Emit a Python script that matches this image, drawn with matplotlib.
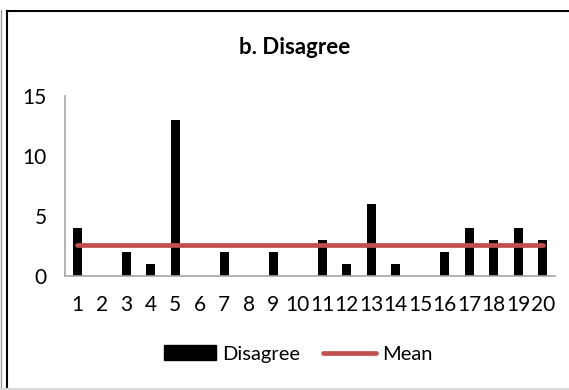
import matplotlib.pyplot as plt
from matplotlib.patches import Patch
from matplotlib.lines import Line2D
import numpy as np

respondents = list(range(1, 21))
disagree = [4, 0, 2, 1, 13, 0, 2, 0, 2, 0, 3, 1, 6, 1, 0, 2, 4, 3, 4, 3]
mean_value = np.mean(disagree)
y_ticks = [0, 5, 10, 15]

plt.rcParams["font.family"] = ["Lato", "DejaVu Sans"]

W, H = 569, 390
fig = plt.figure(figsize=(W / 100, H / 100), dpi=100)
ax = fig.add_axes([65 / W, 1 - 276 / H, (555 - 65) / W, (276 - 96) / H])

color_bar = "black"
color_mean = "#C0504D"
color_axis = "#A6A6A6"

ax.bar(respondents, disagree, width=0.38, color=color_bar, zorder=2)
ax.plot(respondents, [mean_value] * len(respondents), color=color_mean,
        linewidth=3.4, solid_capstyle="round", zorder=3)

ax.set_xlim(0.5, 20.5)
ax.set_ylim(0, 15)
ax.set_xticks(respondents)
ax.set_xticklabels([str(r) for r in respondents])
ax.set_yticks(y_ticks)
for s in ["top", "right"]:
    ax.spines[s].set_visible(False)
for s in ["left", "bottom"]:
    ax.spines[s].set_color(color_axis)
    ax.spines[s].set_linewidth(1.2)
ax.tick_params(axis="both", length=0, labelsize=15)
ax.tick_params(axis="y", pad=13)
ax.tick_params(axis="x", pad=14)

fig.text(295 / W, 1 - 48 / H, "b. Disagree", ha="center", va="center",
         fontsize=16, fontweight="bold")

handles = [Patch(facecolor=color_bar, edgecolor=color_bar),
           Line2D([0], [0], color=color_mean, linewidth=3.4, solid_capstyle="round")]
fig.legend(handles, ["Disagree", "Mean"], loc="center", ncol=2, frameon=False,
           bbox_to_anchor=(298 / W, 1 - 354 / H), fontsize=14.5,
           handlelength=2.6, handletextpad=0.3, columnspacing=1.15)

# chart frame: black top/left edges, grey page lines
fig.lines.append(Line2D([6.5 / W, 1], [1 - 11 / H, 1 - 11 / H], transform=fig.transFigure,
                        color="black", linewidth=1.5))
fig.lines.append(Line2D([6.5 / W, 6.5 / W], [0, 1 - 11 / H], transform=fig.transFigure,
                        color="black", linewidth=1.5))
fig.lines.append(Line2D([0.7 / W, 0.7 / W], [0, 1 - 10 / H], transform=fig.transFigure,
                        color="#999999", linewidth=1))
fig.lines.append(Line2D([0, 1], [1.2 / H, 1.2 / H], transform=fig.transFigure,
                        color="#D9D9D9", linewidth=1.5))

fig.savefig("out.png", dpi=100)
